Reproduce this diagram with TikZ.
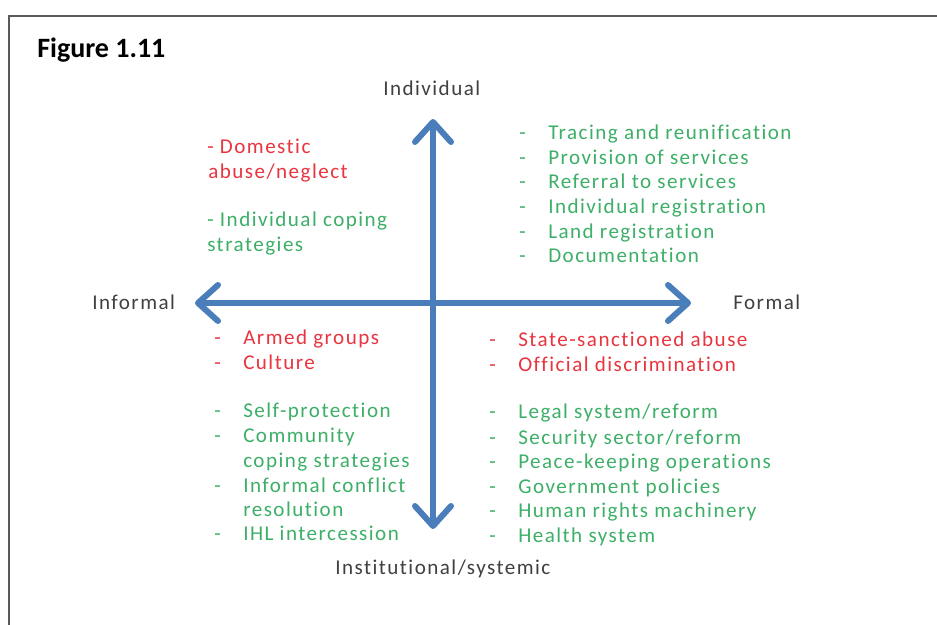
\documentclass[tikz,border=0pt]{standalone}
\usepackage{fontspec}
\setmainfont{Carlito}
\newfontfamily\labfont[LetterSpace=7,Ligatures=NoCommon]{Carlito}
\usetikzlibrary{arrows.meta}
\definecolor{axisblue}{HTML}{4A7EBB}
\definecolor{harmred}{HTML}{E8353F}
\definecolor{respgreen}{HTML}{3DAF68}
\definecolor{labgray}{HTML}{404040}
\definecolor{framegray}{HTML}{5A5A5A}
\begin{document}
\begin{tikzpicture}[x=0.75pt,y=-0.75pt,
  lbl/.style={font=\labfont\fontsize{15.8}{19}\selectfont, inner sep=0pt, anchor=base west},
  harm/.style={lbl, text=harmred},
  resp/.style={lbl, text=respgreen},
  axislbl/.style={lbl, text=labgray},
  barbtip/.tip={Straight Barb[length=15pt,width=27pt,line cap=round,line join=round]},
  axisline/.style={draw=axisblue, line width=4.5pt, barbtip-barbtip}
]
\useasboundingbox (0,0) rectangle (937,624);
\fill[white] (0,0) rectangle (937,624);
% frame
\draw[framegray, line width=1.6pt] (9,640) -- (9,16) -- (950,16);
% title
\node[anchor=base west, inner sep=0pt, font=\bfseries\fontsize{21}{25}\selectfont] (title) at (37,58) {Figure 1.11};
% axes
\coordinate (top) at (433,119);
\coordinate (bot) at (433,529);
\coordinate (lft) at (195,303);
\coordinate (rgt) at (691,303);
\draw[axisline] (bot) -- (top);
\draw[axisline] (lft) -- (rgt);
% axis labels
\node[axislbl] (indiv) at (383,96) {Individual};
\node[axislbl] (inform) at (92,309.5) {Informal};
\node[axislbl] (formal) at (733,309.5) {Formal};
\node[axislbl] (instit) at (335,574) {Institutional/systemic};
% top left
\node[harm] (tl1) at (207,153) {- Domestic};
\node[harm] (tl2) at (208,178) {abuse/neglect};
\node[resp] (tl3) at (207,226) {- Individual coping};
\node[resp] (tl4) at (207,251) {strategies};
% top right
\node[resp] (trd1) at (519,139) {-};
\node[resp] (tr1) at (548,139) {Tracing and reunification};
\node[resp] (trd2) at (519,164) {-};
\node[resp] (tr2) at (548,164) {Provision of services};
\node[resp] (trd3) at (519,188) {-};
\node[resp] (tr3) at (548,188) {Referral to services};
\node[resp] (trd4) at (519,213) {-};
\node[resp] (tr4) at (548,213) {Individual registration};
\node[resp] (trd5) at (519,238) {-};
\node[resp] (tr5) at (548,238) {Land registration};
\node[resp] (trd6) at (519,262) {-};
\node[resp] (tr6) at (548,262) {Documentation};
% bottom left
\node[harm] (bld1) at (214,344) {-};
\node[harm] (bl1) at (243,344) {Armed groups};
\node[harm] (bld2) at (214,369) {-};
\node[harm] (bl2) at (243,369) {Culture};
\node[resp] (bld3) at (214,417) {-};
\node[resp] (bl3) at (243,417) {Self-protection};
\node[resp] (bld4) at (214,442) {-};
\node[resp] (bl4) at (243,442) {Community};
\node[resp] (bl5) at (243,467) {coping strategies};
\node[resp] (bld6) at (214,492) {-};
\node[resp] (bl6) at (243,492) {Informal conflict};
\node[resp] (bl7) at (243,516) {resolution};
\node[resp] (bld8) at (214,540) {-};
\node[resp] (bl8) at (243,540) {IHL intercession};
% bottom right
\node[harm] (brd1) at (489,346) {-};
\node[harm] (br1) at (518,346) {State-sanctioned abuse};
\node[harm] (brd2) at (489,371) {-};
\node[harm] (br2) at (518,371) {Official discrimination};
\node[resp] (brd3) at (489,418) {-};
\node[resp] (br3) at (518,418) {Legal system/reform};
\node[resp] (brd4) at (489,444) {-};
\node[resp] (br4) at (518,444) {Security sector/reform};
\node[resp] (brd5) at (489,468) {-};
\node[resp] (br5) at (518,468) {Peace-keeping operations};
\node[resp] (brd6) at (489,493) {-};
\node[resp] (br6) at (518,493) {Government policies};
\node[resp] (brd7) at (489,517) {-};
\node[resp] (br7) at (518,517) {Human rights machinery};
\node[resp] (brd8) at (489,542) {-};
\node[resp] (br8) at (518,542) {Health system};
\end{tikzpicture}
\end{document}
